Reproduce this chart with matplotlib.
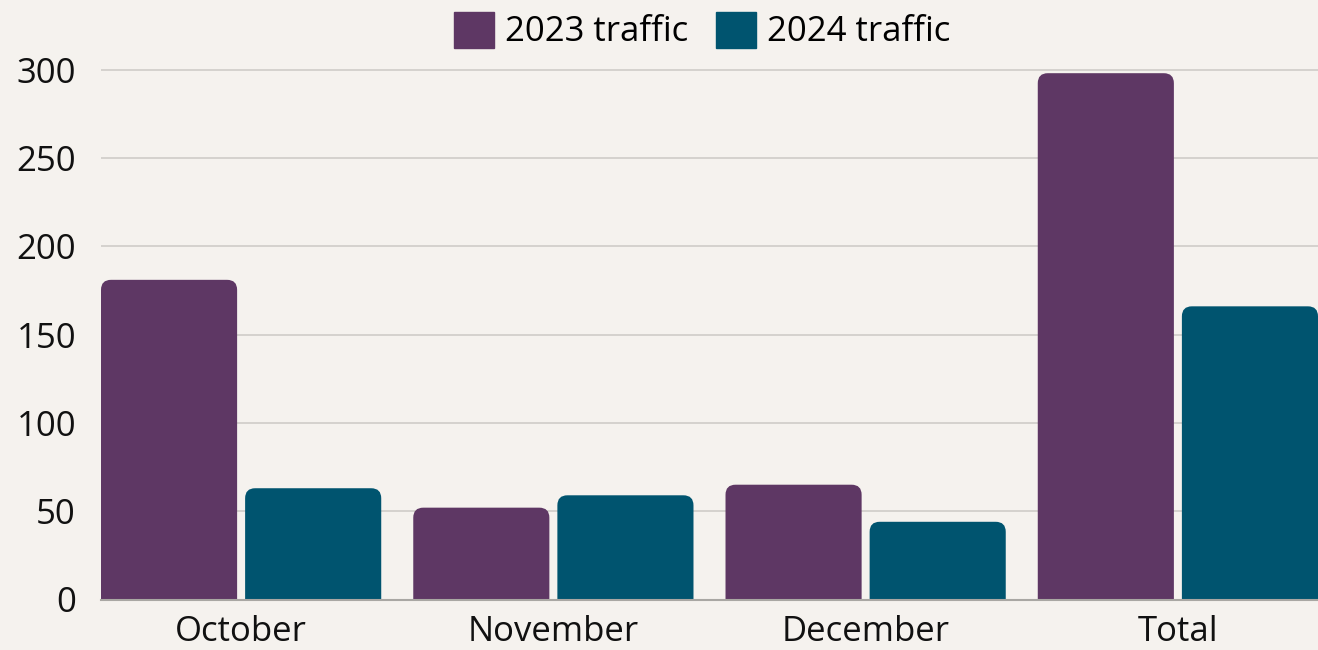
import matplotlib
matplotlib.use("Agg")
import matplotlib.pyplot as plt
from matplotlib.patches import FancyBboxPatch, Patch
import numpy as np

# Data
categories = ["October", "November", "December", "Total"]
traffic_2023 = [181, 52, 65, 298]
traffic_2024 = [63, 59, 44, 166]
series_labels = ["2023 traffic", "2024 traffic"]
yticks = [0, 50, 100, 150, 200, 250, 300]

purple = "#5E3764"
teal = "#00546F"
bg = "#F5F2EE"

plt.rcParams["font.family"] = ["Open Sans", "DejaVu Sans"]

fig = plt.figure(figsize=(13.18, 6.5), dpi=100, facecolor=bg)
ax = fig.add_axes([101 / 1318, 50.5 / 650, 1217 / 1318, 547.5 / 650])
ax.set_facecolor(bg)

x = np.arange(len(categories))
width = 136 / 312
offset = (136 + 8) / 2 / 312

bars1 = ax.bar(x - offset, traffic_2023, width, color=purple)
bars2 = ax.bar(x + offset, traffic_2024, width, color=teal)

ax.set_xlim(-offset - width / 2, len(categories) - 1 + offset + width / 2)
ax.set_ylim(0, 310)

# swap plain bars for rounded ones (rounding in pixels, corrected for aspect)
x_per_px = 1 / 312
y_per_px = 310 / 547.5
for bars in (bars1, bars2):
    for r in bars:
        r.set_visible(False)
        p = FancyBboxPatch((r.get_x(), -20), r.get_width(), r.get_height() + 20,
                           boxstyle="round,pad=0,rounding_size=%f" % (10 * x_per_px),
                           mutation_aspect=y_per_px / x_per_px,
                           facecolor=r.get_facecolor(), edgecolor="none", zorder=3)
        ax.add_patch(p)

ax.set_yticks(yticks)
ax.set_xticks(x)
ax.set_xticklabels(categories)
ax.tick_params(axis="both", length=0, labelsize=25, colors="#111111")
ax.tick_params(axis="y", pad=18)
ax.tick_params(axis="x", pad=11)
for s in ["top", "right", "left"]:
    ax.spines[s].set_visible(False)
ax.spines["bottom"].set_color("#A9A7A3")
ax.spines["bottom"].set_linewidth(1.5)
ax.spines["bottom"].set_zorder(4)
ax.yaxis.grid(True, color="#CFCCC8", linewidth=1.2)
ax.set_axisbelow(True)

handles = [Patch(color=purple), Patch(color=teal)]
fig.legend(handles, series_labels, loc="upper center", bbox_to_anchor=(0.5327, 1.03),
           ncol=2, frameon=False, fontsize=25, handlelength=1.15, handleheight=1.21,
           handletextpad=0.32, columnspacing=0.8)

fig.savefig("out.png", dpi=100, facecolor=bg)
